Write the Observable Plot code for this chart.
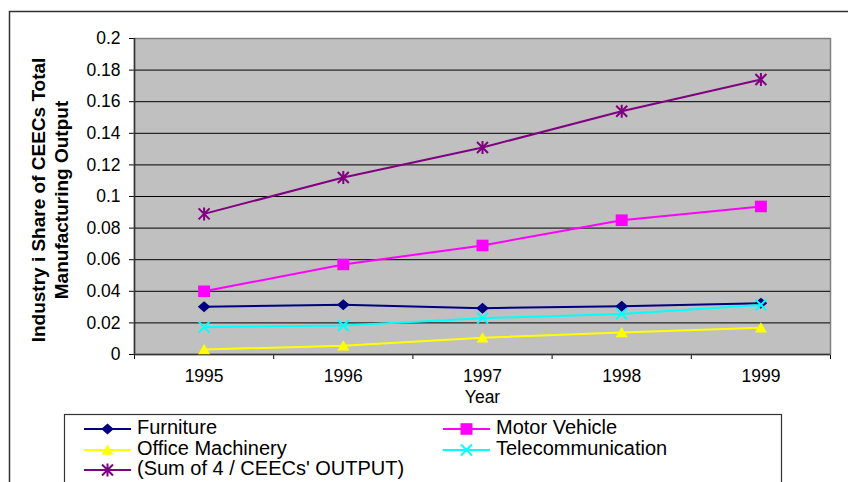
<!DOCTYPE html>
<html>
<head>
<meta charset="utf-8">
<script src="https://cdn.jsdelivr.net/npm/d3@7"></script>
<script src="https://cdn.jsdelivr.net/npm/@observablehq/plot@0.6"></script>
<style>
  html, body { margin: 0; padding: 0; background: #fff; }
  #chart { width: 848px; height: 482px; overflow: hidden; }
</style>
</head>
<body>
<div id="chart"></div>
<script>
// ---- data ----
const years = ["1995", "1996", "1997", "1998", "1999"];
const furniture = [0.0302, 0.0315, 0.0293, 0.0306, 0.0325];
const motorVehicle = [0.040, 0.057, 0.069, 0.085, 0.0937];
const officeMachinery = [0.0032, 0.0055, 0.0106, 0.0139, 0.0169];
const telecommunication = [0.0173, 0.0184, 0.0230, 0.0257, 0.0314];
const sumOf4 = [0.089, 0.112, 0.131, 0.154, 0.174];
const yTicks = [0, 0.02, 0.04, 0.06, 0.08, 0.1, 0.12, 0.14, 0.16, 0.18, 0.2];
const yTickLabels = ["0", "0.02", "0.04", "0.06", "0.08", "0.1", "0.12", "0.14", "0.16", "0.18", "0.2"];
const seriesNames = ["Furniture", "Motor Vehicle", "Office Machinery", "Telecommunication", "(Sum of 4 / CEECs' OUTPUT)"];
const seriesColors = ["#000080", "#FF00FF", "#FFFF00", "#00FFFF", "#800080"];
const yTitleLines = ["Industry i Share of CEECs Total", "Manufacturing Output"];
const xTitle = "Year";

// ---- marker symbols ----
const symDiamond = {draw(c) { c.moveTo(0, -5.5); c.lineTo(6.3, 0); c.lineTo(0, 5.5); c.lineTo(-6.3, 0); c.closePath(); }};
const symSquare = {draw(c) { c.moveTo(-6, -5.8); c.lineTo(6, -5.8); c.lineTo(6, 5.8); c.lineTo(-6, 5.8); c.closePath(); }};
const symTriangle = {draw(c) { c.moveTo(0, -5.5); c.lineTo(6, 4.8); c.lineTo(-6, 4.8); c.closePath(); }};
const symTimes = {draw(c) { c.moveTo(-5.5, -5.5); c.lineTo(5.5, 5.5); c.moveTo(-5.5, 5.5); c.lineTo(5.5, -5.5); }};
const symStar = {draw(c) { c.moveTo(-5.5, -5.5); c.lineTo(5.5, 5.5); c.moveTo(-5.5, 5.5); c.lineTo(5.5, -5.5); c.moveTo(0, -6.5); c.lineTo(0, 6.5); }};

const series = [
  {name: seriesNames[0], values: furniture, color: seriesColors[0], symbol: symDiamond, filled: true},
  {name: seriesNames[1], values: motorVehicle, color: seriesColors[1], symbol: symSquare, filled: true},
  {name: seriesNames[2], values: officeMachinery, color: seriesColors[2], symbol: symTriangle, filled: true},
  {name: seriesNames[3], values: telecommunication, color: seriesColors[3], symbol: symTimes, filled: false},
  {name: seriesNames[4], values: sumOf4, color: seriesColors[4], symbol: symStar, filled: false}
];

const boundaries = d3.range(years.length + 1).map(i => i + 0.5);

const seriesMarks = series.flatMap(s => {
  const rows = s.values.map((v, i) => ({idx: i + 1, value: v}));
  return [
    Plot.line(rows, {x: "idx", y: "value", stroke: s.color, strokeWidth: 2}),
    Plot.dot(rows, {
      x: "idx", y: "value", symbol: s.symbol,
      fill: s.filled ? s.color : "none",
      stroke: s.filled ? "none" : s.color,
      strokeWidth: s.filled ? 0 : 2
    })
  ];
});

const FONT = "'Liberation Sans', Arial, sans-serif";

const svg = Plot.plot({
  width: 848,
  height: 482,
  marginLeft: 134,
  marginRight: 18,
  marginTop: 38,
  marginBottom: 128,
  style: {fontFamily: FONT, fontSize: "17.5px", background: "#fff", color: "#000", overflow: "hidden"},
  x: {domain: [0.5, years.length + 0.5], ticks: boundaries, tickFormat: () => "", tickSize: 5, label: null},
  y: {domain: [0, 0.2], ticks: yTicks, tickFormat: d => yTickLabels[yTicks.indexOf(d)], tickSize: 5, tickPadding: 9, label: null},
  marks: [
    Plot.frame({fill: "#C0C0C0", stroke: "#808080", strokeWidth: 1.5}),
    Plot.ruleY(yTicks.filter(t => t > 0 && t < 0.2), {stroke: "#000", strokeWidth: 1}),
    Plot.ruleX([0.5], {stroke: "#333", strokeWidth: 1.5}),
    Plot.ruleY([0], {stroke: "#333", strokeWidth: 1.5}),
    ...seriesMarks,
    Plot.text(years, {x: (d, i) => i + 1, text: d => d, frameAnchor: "bottom", dy: 27, fontSize: 17.5, fill: "#000"}),
    Plot.text([xTitle], {frameAnchor: "bottom", dy: 48, fontSize: 17.5, fill: "#000"})
  ]
});

document.getElementById("chart").appendChild(svg);

const root = d3.select(svg);

// outer chart border
root.insert("rect", ":first-child")
  .attr("x", 9.5).attr("y", 11.5).attr("width", 900).attr("height", 600)
  .attr("fill", "none").attr("stroke", "#333").attr("stroke-width", 1.5);

// y-axis title (two lines, rotated)
const yTitle = root.append("g").attr("font-family", FONT).attr("font-weight", "bold").attr("font-size", 19).attr("fill", "#000").attr("text-anchor", "middle");
yTitle.append("text").attr("transform", "translate(45,200) rotate(-90)").text(yTitleLines[0]);
yTitle.append("text").attr("transform", "translate(68,200) rotate(-90)").text(yTitleLines[1]);

// legend
const lg = root.append("g").attr("font-family", FONT).attr("font-size", 20).attr("fill", "#000").attr("text-anchor", "start");
lg.append("rect").attr("x", 64.5).attr("y", 414.5).attr("width", 717).attr("height", 200)
  .attr("fill", "#fff").attr("stroke", "#333").attr("stroke-width", 1.2);
const legendPos = [[84, 429], [443, 429], [84, 450], [443, 450], [84, 470]];
series.forEach((s, i) => {
  const [x0, y0] = legendPos[i];
  const g = lg.append("g").attr("transform", `translate(${x0},${y0})`);
  g.append("line").attr("x1", 0).attr("x2", 47).attr("y1", 0).attr("y2", 0).attr("stroke", s.color).attr("stroke-width", 2);
  g.append("path").attr("transform", "translate(23.5,0)").attr("d", d3.symbol(s.symbol)())
    .attr("fill", s.filled ? s.color : "none").attr("stroke", s.filled ? "none" : s.color).attr("stroke-width", 2);
  g.append("text").attr("x", 53).attr("y", 4.5).attr("text-anchor", "start").text(s.name);
});
</script>
</body>
</html>
